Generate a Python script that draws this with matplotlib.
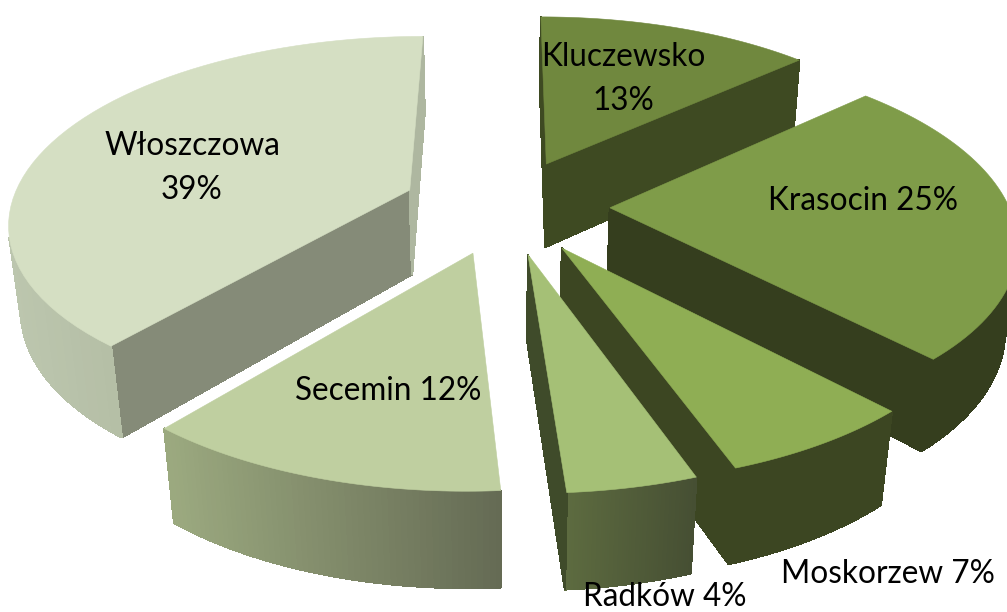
import numpy as np
import matplotlib
matplotlib.use('Agg')
from matplotlib import pyplot as plt
from matplotlib.colors import to_rgb
from matplotlib.patches import Polygon

labels = ['Kluczewsko\n13%', 'Krasocin 25%', 'Moskorzew 7%', 'Radków 4%', 'Secemin 12%', 'Włoszczowa\n39%']
# read from the slice edges, the labels show these rounded
shares = [13.2, 24.8, 6.6, 4.3, 12.1, 39.0]

label_xy = [(623, 79), (863, 201), (888, 574), (665, 597), (388, 391), (192, 168)]
top_colors = ['#70883e', '#7f9c49', '#8fae54', '#a5c076', '#bfcfa0', '#d5dfc3']
cut_start = ['#3e4a22', '#353e1e', '#3c4622', '#3f4b2a', '#6f765f', '#858b78']
cut_end = ['#3e4a22', '#353e1e', '#3c4622', '#3f4b2a', '#6f765f', '#aeb7a0']
rim_left = ['#3e4a22', '#353e1e', '#3c4622', '#5d6b40', '#9caa80', '#bcc6ae']
rim_right = ['#3e4a22', '#353e1e', '#3c4622', '#464f33', '#656b54', '#a0a98f']

# projection of the tilted pie onto the page, in pixels
CX, CY = 506, 206
A, B = 399, 183
PERSP = 0.16
PERSP_Z = 0.025
DEPTH = 87
EXPLODE = 0.26


def project(x, y, z=0.0):
    w = 1 + PERSP * y - PERSP_Z * z
    return CX + A * x / w, CY - (B * y + DEPTH * z) / w


def slice_outline(start, end, n=60):
    """Top outline of one exploded slice in world coordinates, clockwise from above."""
    mid = (start + end) / 2
    ox, oy = EXPLODE * np.sin(mid), EXPLODE * np.cos(mid)
    theta = np.linspace(start, end, n)
    xs = np.concatenate([[ox], ox + np.sin(theta)])
    ys = np.concatenate([[oy], oy + np.cos(theta)])
    return xs, ys


def draw_slice(ax, start, end, i):
    xs, ys = slice_outline(start, end)
    px, py = project(xs, ys)
    bx, by = project(xs, ys, -1.0)
    n = len(xs)
    left, right = np.array(to_rgb(rim_left[i])), np.array(to_rgb(rim_right[i]))
    x_min, x_max = px[1:].min(), px[1:].max()
    for j in range(n):
        k = (j + 1) % n
        quad = [(px[j], py[j]), (px[k], py[k]), (bx[k], by[k]), (bx[j], by[j])]
        qx, qy = zip(*quad)
        area = sum(qx[m] * qy[(m + 1) % 4] - qx[(m + 1) % 4] * qy[m] for m in range(4))
        if area >= 0:
            continue  # faces away from the viewer
        if j == 0:
            color = cut_start[i]
        elif j == n - 1:
            color = cut_end[i]
        else:
            t = (px[j] - x_min) / max(x_max - x_min, 1)
            color = tuple(left + (right - left) * t)
        ax.add_patch(Polygon(quad, closed=True, facecolor=color, edgecolor=color, linewidth=1.0,
                             antialiased=False))
    ax.add_patch(Polygon(np.column_stack([px, py]), closed=True, facecolor=top_colors[i],
                         edgecolor=top_colors[i], linewidth=0.4))


fig = plt.figure(figsize=(10.07, 6.12), dpi=100)
ax = fig.add_axes([0, 0, 1, 1])
ax.set_xlim(0, 1007)
ax.set_ylim(612, 0)
ax.axis('off')

edges = np.concatenate([[0], np.cumsum(shares)]) / sum(shares) * 2 * np.pi
mids = (edges[:-1] + edges[1:]) / 2

# back slices first
for i in np.argsort(-np.cos(mids)):
    draw_slice(ax, edges[i], edges[i + 1], i)

for label, (x, y) in zip(labels, label_xy):
    ax.text(x, y, label, ha='center', va='center', fontsize=22.7, family='Lato', color='black',
            linespacing=1.55)

fig.savefig('out.png', dpi=100)
